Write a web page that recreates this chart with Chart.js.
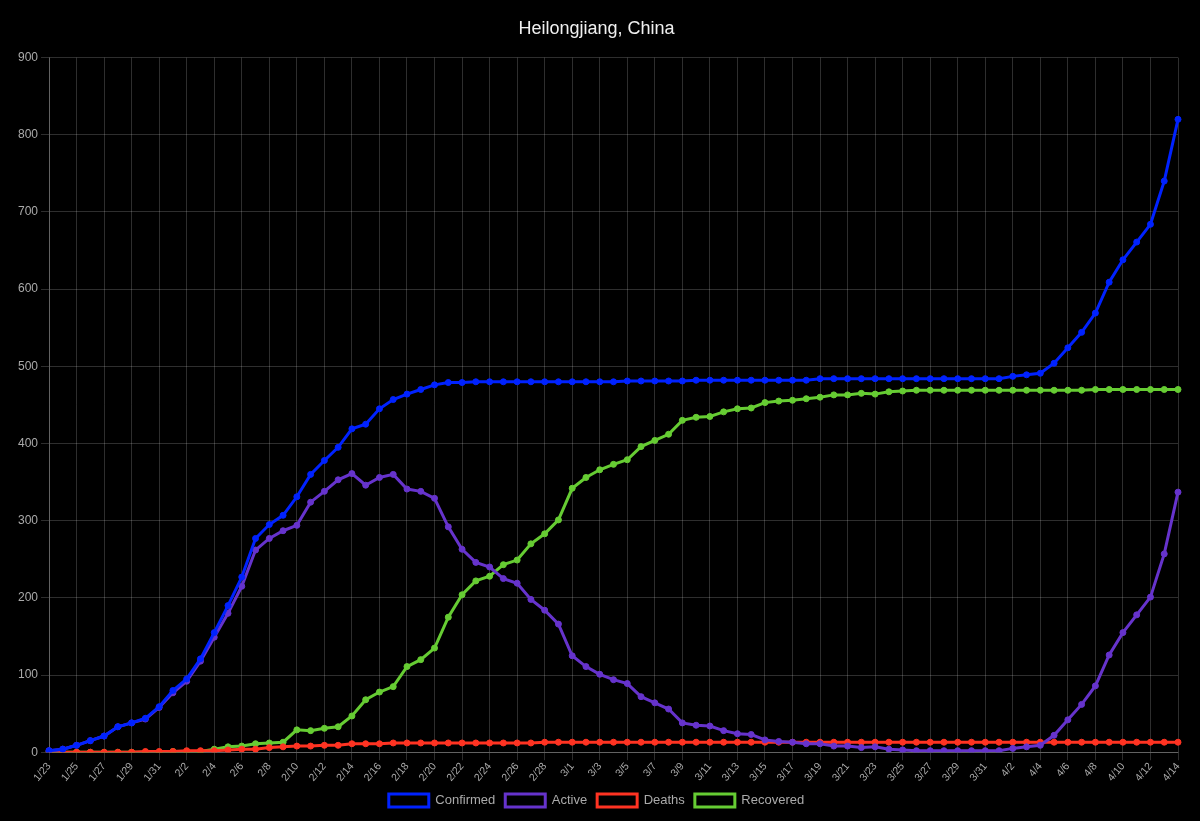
<!DOCTYPE html>
<html>
<head>
<meta charset="utf-8">
<script src="https://cdn.jsdelivr.net/npm/chart.js@4"></script>
<style>
  html, body { margin: 0; padding: 0; background: #000; }
  #wrap { width: 1200px; height: 821px; position: relative; }
</style>
</head>
<body>
<div id="wrap"><canvas id="c"></canvas></div>
<script>
const dates = [
  "1/23","1/24","1/25","1/26","1/27","1/28","1/29","1/30","1/31",
  "2/1","2/2","2/3","2/4","2/5","2/6","2/7","2/8","2/9","2/10","2/11","2/12","2/13","2/14","2/15","2/16","2/17","2/18","2/19","2/20","2/21","2/22","2/23","2/24","2/25","2/26","2/27","2/28","2/29",
  "3/1","3/2","3/3","3/4","3/5","3/6","3/7","3/8","3/9","3/10","3/11","3/12","3/13","3/14","3/15","3/16","3/17","3/18","3/19","3/20","3/21","3/22","3/23","3/24","3/25","3/26","3/27","3/28","3/29","3/30","3/31",
  "4/1","4/2","4/3","4/4","4/5","4/6","4/7","4/8","4/9","4/10","4/11","4/12","4/13","4/14"
];

const confirmed = [
  2,4,9,15,21,33,38,44,59,
  80,95,121,155,190,227,277,295,307,331,360,378,395,419,425,445,457,464,470,476,479,479,480,480,480,480,480,480,480,
  480,480,480,480,481,481,481,481,481,482,482,482,482,482,482,482,482,482,484,484,484,484,484,484,484,484,484,484,484,484,484,
  484,487,489,491,504,524,544,569,609,638,661,684,740,820
];

const active = [
  2,4,9,15,21,33,38,43,58,
  77,92,118,149,180,215,262,277,287,294,324,338,353,361,346,356,360,341,338,329,292,263,246,240,225,219,198,184,166,
  125,111,101,94,89,72,64,56,38,35,34,28,24,23,16,14,13,11,11,8,8,6,7,4,3,2,2,2,2,2,2,
  2,5,7,9,22,42,62,86,126,155,178,201,257,337
];

const deaths = [
  0,0,0,0,0,0,0,1,1,
  1,2,2,2,3,4,4,6,7,8,8,9,9,11,11,11,12,12,12,12,12,12,12,12,12,12,12,13,13,
  13,13,13,13,13,13,13,13,13,13,13,13,13,13,13,13,13,13,13,13,13,13,13,13,13,13,13,13,13,13,13,
  13,13,13,13,13,13,13,13,13,13,13,13,13,13
];

const recovered = [
  0,0,0,0,0,0,0,0,0,
  1,1,1,4,7,8,11,12,13,29,28,31,33,47,68,78,85,111,120,135,175,204,222,228,243,249,270,283,301,
  342,356,366,373,379,396,404,412,430,434,435,441,445,446,453,455,456,458,460,463,463,465,464,467,468,469,469,469,469,469,469,
  469,469,469,469,469,469,469,470,470,470,470,470,470,470
];

const seriesNames = ["Confirmed","Active","Deaths","Recovered"];
const seriesColors = ["rgb(0,34,255)","rgb(102,51,204)","rgb(255,51,34)","rgb(102,204,51)"];
const seriesData = [confirmed, active, deaths, recovered];

const yTicks = [0,100,200,300,400,500,600,700,800,900];

const FONT = "'Liberation Sans', Arial, Helvetica, sans-serif";
const GRID = 'rgba(255,255,255,0.18)';
const everyOther = (ctx) => (ctx.index % 2 === 0 ? GRID : 'rgba(0,0,0,0)');

new Chart(document.getElementById('c'), {
  type: 'line',
  data: {
    labels: dates,
    datasets: seriesNames.map((name, i) => ({
      label: name,
      data: seriesData[i],
      borderColor: seriesColors[i],
      backgroundColor: 'rgba(0,0,0,0)',
      pointBackgroundColor: seriesColors[i],
      pointBorderColor: seriesColors[i],
      pointRadius: 3,
      pointBorderWidth: 1,
      borderWidth: 3,
      tension: 0,
      fill: false
    }))
  },
  options: {
    responsive: true,
    maintainAspectRatio: false,
    animation: false,
    layout: { padding: { left: 15, right: 22, top: 2, bottom: 4 } },
    plugins: {
      title: {
        display: true,
        text: 'Heilongjiang, China',
        color: '#f0f0f0',
        font: { family: FONT, size: 18, weight: 'normal' },
        padding: { top: 16, bottom: 18 }
      },
      legend: {
        position: 'bottom',
        labels: {
          color: '#aaaaaa',
          font: { family: FONT, size: 13 },
          boxWidth: 40,
          boxHeight: 13
        }
      },
      tooltip: { enabled: false }
    },
    scales: {
      x: {
        grid: { color: everyOther, tickColor: everyOther },
        border: { color: 'rgba(255,255,255,0.25)' },
        ticks: {
          color: '#aaaaaa',
          font: { family: FONT, size: 10.5 },
          autoSkip: false,
          padding: 0,
          maxRotation: 50,
          minRotation: 50,
          callback: function (value, index) {
            return index % 2 === 0 ? this.getLabelForValue(value) : '';
          }
        }
      },
      y: {
        min: yTicks[0],
        max: yTicks[yTicks.length - 1],
        grid: { color: GRID, tickColor: GRID },
        border: { color: 'rgba(255,255,255,0.25)' },
        ticks: {
          color: '#aaaaaa',
          font: { family: FONT, size: 12 },
          stepSize: 100
        }
      }
    }
  }
});
</script>
</body>
</html>
